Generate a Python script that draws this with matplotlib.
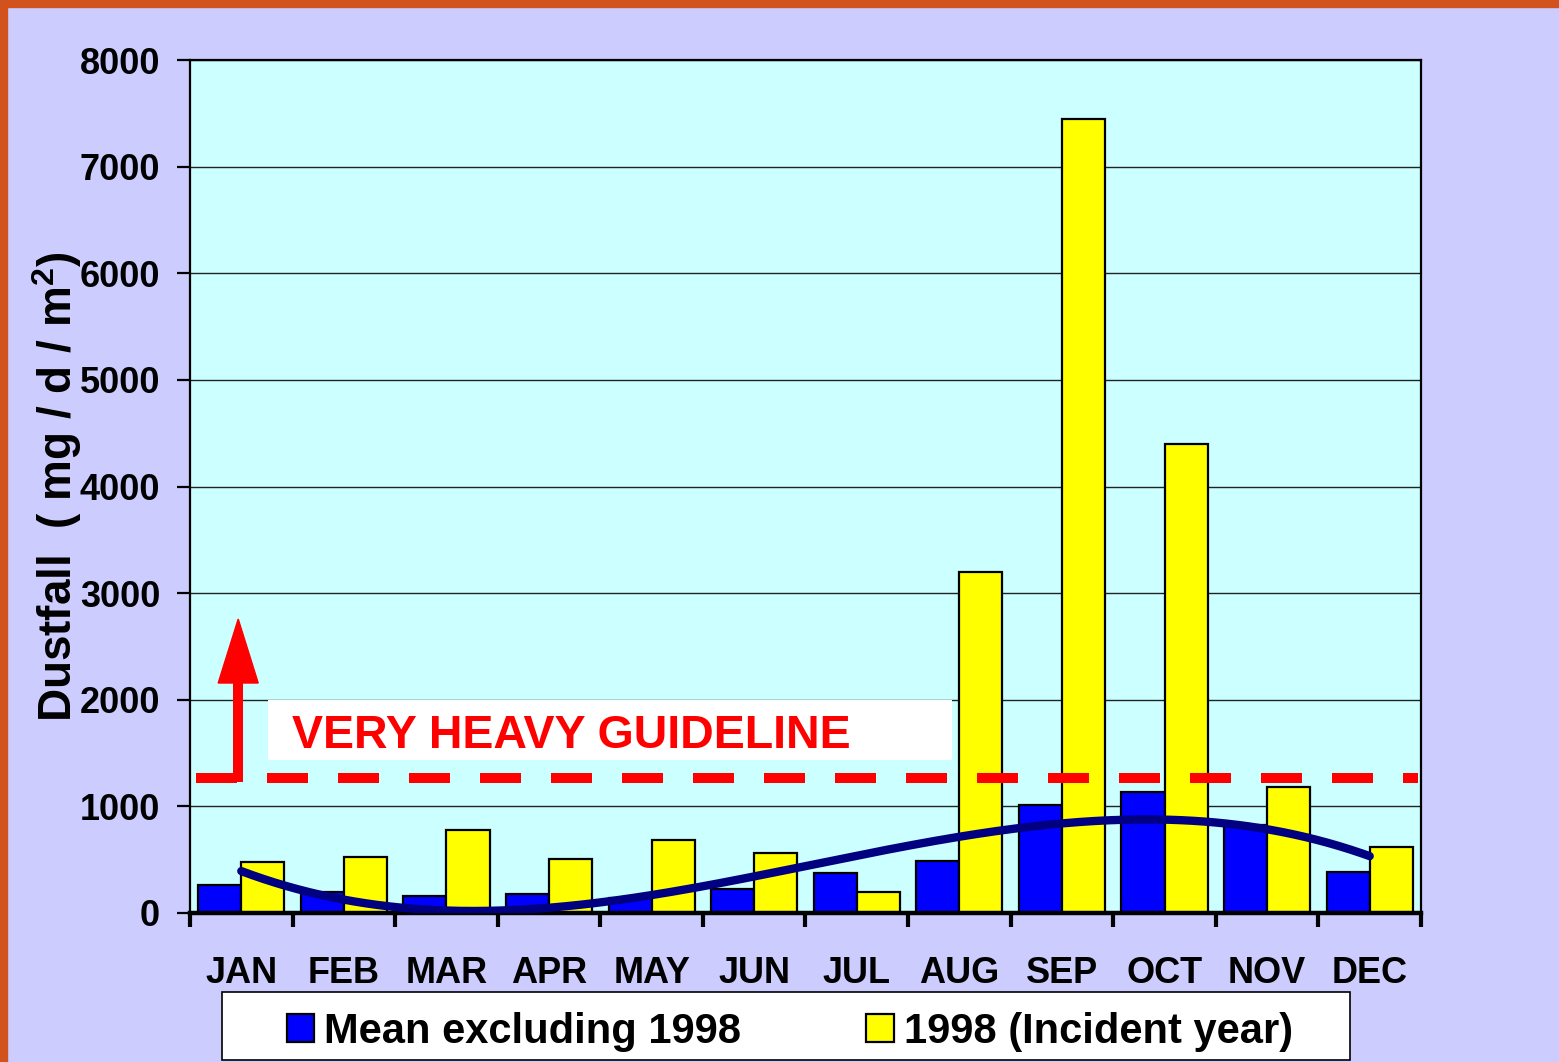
import numpy as np
import matplotlib.pyplot as plt
from matplotlib.patches import Rectangle, Polygon

months = ['JAN', 'FEB', 'MAR', 'APR', 'MAY', 'JUN',
          'JUL', 'AUG', 'SEP', 'OCT', 'NOV', 'DEC']
mean_excl_1998 = [260, 200, 160, 178, 140, 225, 375, 488, 1013, 1135, 830, 385]
incident_1998 = [480, 525, 778, 506, 685, 563, 197, 3200, 7450, 4400, 1182, 620]
guideline = 1270
yticks = [0, 1000, 2000, 3000, 4000, 5000, 6000, 7000, 8000]

plt.rcParams['font.family'] = ['Liberation Sans', 'DejaVu Sans']
plt.rcParams['font.weight'] = 'bold'
plt.rcParams['mathtext.fontset'] = 'custom'
plt.rcParams['mathtext.bf'] = 'Liberation Sans:bold'
plt.rcParams['mathtext.rm'] = 'Liberation Sans:bold'

W, H = 1559, 1062
fig = plt.figure(figsize=(W / 100, H / 100), dpi=100, facecolor='#CCCCFF')

# orange frame on top and left
fig.patches.append(Rectangle((0, 1 - 7 / H), 1, 7 / H, transform=fig.transFigure,
                             color='#D2521E', zorder=0))
fig.patches.append(Rectangle((0, 0), 7 / W, 1, transform=fig.transFigure,
                             color='#D2521E', zorder=0))

ax = fig.add_axes([190 / W, 1 - 913 / H, (1421 - 190) / W, (913 - 60) / H])
ax.set_facecolor('#CCFFFF')

x = np.arange(len(months))
w = 0.42
b1 = ax.bar(x - w / 2, mean_excl_1998, w, color='#0000FF', edgecolor='black',
            linewidth=1.6, label='Mean excluding 1998', zorder=2)
b2 = ax.bar(x + w / 2, incident_1998, w, color='#FFFF00', edgecolor='black',
            linewidth=1.6, label='1998 (Incident year)', zorder=2)

# polynomial trend of the long-term mean
coef = np.polyfit(x, mean_excl_1998, 3)
xs = np.linspace(0, 11, 300)
ax.plot(xs, np.polyval(coef, xs), color='#000080', lw=6, solid_capstyle='round', zorder=4)

# guideline: dashed line, arrow and label
ax.plot([-0.44, 11.47], [guideline, guideline], color='#FF0000', lw=7.2,
        linestyle=(0, (4.1, 3.0)), dash_capstyle='butt', zorder=5)
ax_x = -0.03
ax.plot([ax_x, ax_x], [guideline - 45, 2200], color='#FF0000', lw=7.2,
        solid_capstyle='butt', zorder=5)
ax.add_patch(Polygon([[ax_x - 0.195, 2157], [ax_x + 0.195, 2157], [ax_x, 2757]],
                     closed=True, color='#FF0000', zorder=5))
ax.add_patch(Rectangle((0.26, 1435), 6.667, 562, facecolor='white',
                       edgecolor='none', zorder=3))
ax.text(0.49, 1660, 'VERY HEAVY GUIDELINE', color='#FF0000', fontsize=33.5,
        fontweight='bold', va='center', ha='left', zorder=6)

ax.set_xlim(-0.5, 11.5)
ax.set_ylim(0, 8000)
ax.set_yticks(yticks)
ax.set_yticklabels([str(v) for v in yticks])
ax.grid(axis='y', color='#222222', lw=1.0, zorder=1)
ax.set_axisbelow(True)

ax.set_xticks(x)
ax.set_xticklabels(months)
ax.set_xticks(np.arange(-0.5, 12, 1), minor=True)
ax.tick_params(axis='x', which='major', length=0, pad=31, labelsize=26)
ax.tick_params(axis='x', which='minor', length=10, width=3, direction='out')
ax.tick_params(axis='y', length=9.5, width=1.6, pad=12, labelsize=26)

for s in ['left', 'top', 'right']:
    ax.spines[s].set_linewidth(1.6)
ax.spines['bottom'].set_linewidth(3.2)

ax.set_ylabel(r'Dustfall  ( mg / d / m$^{\mathbf{2}}$)', fontsize=33,
              fontweight='bold', labelpad=-3)

# legend box
fig.patches.append(Rectangle((222 / W, 1 - 1060 / H), (1350 - 222) / W, 68 / H,
                             transform=fig.transFigure, facecolor='white',
                             edgecolor='black', lw=1.2, zorder=1))
fig.legend(handles=[b1, b2], loc='center', bbox_to_anchor=(790 / W, 1 - 1032 / H),
           ncol=2, frameon=False, fontsize=30, handlelength=0.65, handleheight=0.65,
           handletextpad=0.25, columnspacing=3.0, borderpad=0)

fig.savefig('out.png', dpi=100, facecolor=fig.get_facecolor())
